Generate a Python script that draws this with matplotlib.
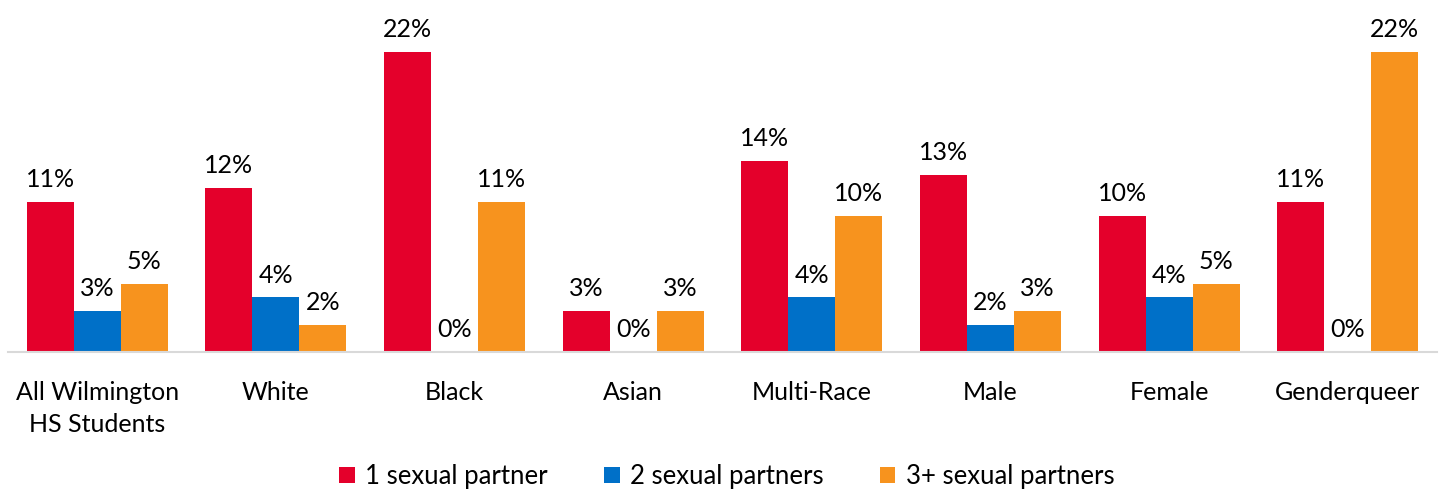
import numpy as np
import matplotlib.pyplot as plt

# Data
categories = ["All Wilmington\nHS Students", "White", "Black", "Asian",
              "Multi-Race", "Male", "Female", "Genderqueer"]
series_names = ["1 sexual partner", "2 sexual partners", "3+ sexual partners"]
one_partner = [11, 12, 22, 3, 14, 13, 10, 11]
two_partners = [3, 4, 0, 0, 4, 2, 4, 0]
three_plus = [5, 2, 11, 3, 10, 3, 5, 22]

COLORS = ["#E4002B", "#0070C8", "#F7931E"]
OUTPUT_FILENAME = "out.png"

plt.rcParams['font.family'] = ['Lato', 'DejaVu Sans']

fig = plt.figure(figsize=(14.45, 4.97), dpi=100)
ax = fig.add_axes([0.0055, 0.2918, 0.989, 0.686])

x = np.arange(len(categories))
width = 0.263
for i, (vals, name) in enumerate(zip([one_partner, two_partners, three_plus], series_names)):
    pos = x + (i - 1) * width
    bars = ax.bar(pos, vals, width, color=COLORS[i], label=name)
    for b, v in zip(bars, vals):
        ax.text(b.get_x() + b.get_width() / 2, v + 0.8, f"{v}%",
                ha='center', va='bottom', fontsize=18)

ax.set_xlim(-0.5, len(categories) - 0.5)
ax.set_ylim(0, 25)
ax.set_yticks([])
ax.set_xticks(x)
ax.set_xticklabels(categories, fontsize=18, linespacing=1.45)
ax.tick_params(axis='x', length=0, pad=21)
for side in ['top', 'right', 'left']:
    ax.spines[side].set_visible(False)
ax.spines['bottom'].set_color('#D9D9D9')
ax.spines['bottom'].set_linewidth(1.5)

fig.legend(loc='lower center', bbox_to_anchor=(0.503, -0.03), ncol=3,
           frameon=False, fontsize=18.5, handlelength=0.6, handleheight=0.6,
           handletextpad=0.4, columnspacing=2.2)

fig.savefig(OUTPUT_FILENAME, dpi=100)
